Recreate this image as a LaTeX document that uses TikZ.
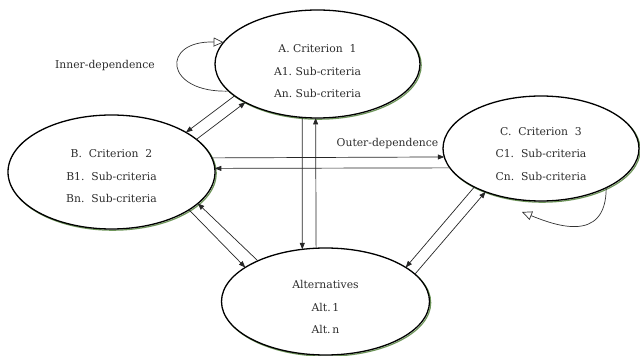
\documentclass[tikz,border=0pt]{standalone}
\usepackage{fontspec}
\setmainfont{DejaVu Serif}
\usetikzlibrary{shapes.geometric,arrows.meta,calc}
\definecolor{shadowgreen}{RGB}{110,150,90}
\definecolor{txtgray}{RGB}{45,45,45}
\begin{document}
\begin{tikzpicture}[x=1pt,y=1pt,
  ell/.style={ellipse, draw=black, line width=1.3pt, fill=white, inner sep=0pt, outer sep=0pt},
  shad/.style={ellipse, draw=shadowgreen, line width=1.2pt, inner sep=0pt, outer sep=0pt},
  txt/.style={align=center, text=txtgray, font=\fontsize{10.8}{22.5}\selectfont},
  lbl/.style={text=txtgray, font=\fontsize{10.8}{13}\selectfont, inner sep=1pt},
  con/.style={draw=black!85, line width=0.7pt, -{Triangle[length=6.5pt,width=5pt]}},
  selfloop/.style={draw=black!80, line width=0.7pt, -{Triangle[open,length=10pt,width=9pt,fill=white]}}
]
\useasboundingbox (0,0) rectangle (640,356);

% shadows
\node[shad, minimum width=205pt, minimum height=108pt] (As) at (318.7,290.8) {};
\node[shad, minimum width=207pt, minimum height=114pt] (Bs) at (112.7,182.8) {};
\node[shad, minimum width=196pt, minimum height=105pt] (Cs) at (542.2,206.3) {};
\node[shad, minimum width=208pt, minimum height=107pt] (Alts) at (326.7,53.3) {};

% ellipses
\node[ell, minimum width=205pt, minimum height=108pt] (A) at (317.5,292) {};
\node[ell, minimum width=207pt, minimum height=114pt] (B) at (111.5,184) {};
\node[ell, minimum width=196pt, minimum height=105pt] (C) at (541,207.5) {};
\node[ell, minimum width=208pt, minimum height=107pt] (Alt) at (325.5,54.5) {};

% texts
\node[txt] (At) at (317.5,284.5) {A.\ Criterion\ \ 1\\A1.\ Sub-criteria\\An.\ Sub-criteria};
\node[txt] (Bt) at (111.5,179.5) {B.\ \ Criterion\ \ 2\\B1.\ \ Sub-criteria\\Bn.\ \ Sub-criteria};
\node[txt] (Ct) at (541,202) {C.\ \ Criterion\ \ 3\\C1.\ \ Sub-criteria\\Cn.\ \ Sub-criteria};
\node[txt] (Altt) at (325.5,49) {Alternatives\\Alt.\,1\\Alt.\,n};

\node[lbl] (inner) at (105,290) {Inner-dependence};
\node[lbl] (outer) at (387.5,212) {Outer-dependence};

% A <-> B
\draw[con] (A.201) -- (B.28);
\draw[con] (B.21) -- (A.208);
% B <-> C
\draw[con] (B.8) -- (C.185);
\draw[con] (C.192) -- (B.2);
% A <-> Alt
\draw[con] (A.254) -- (Alt.114);
\draw[con] (Alt.100) -- (A.268);
% B <-> Alt
\draw[con] (B.334) -- (Alt.157);
\draw[con] (Alt.149) -- (B.340);
% C <-> Alt
\draw[con] (C.210) -- (Alt.23);
\draw[con] (Alt.17) -- (C.218);

% self loops
\draw[selfloop] (A.197) .. controls +(-65,-2) and +(-63,2) .. (A.167);
\coordinate (cend) at (522,144);
\draw[selfloop] (C.329) .. controls +(0,-58) and +(30,-12) .. (cend);
\end{tikzpicture}
\end{document}
